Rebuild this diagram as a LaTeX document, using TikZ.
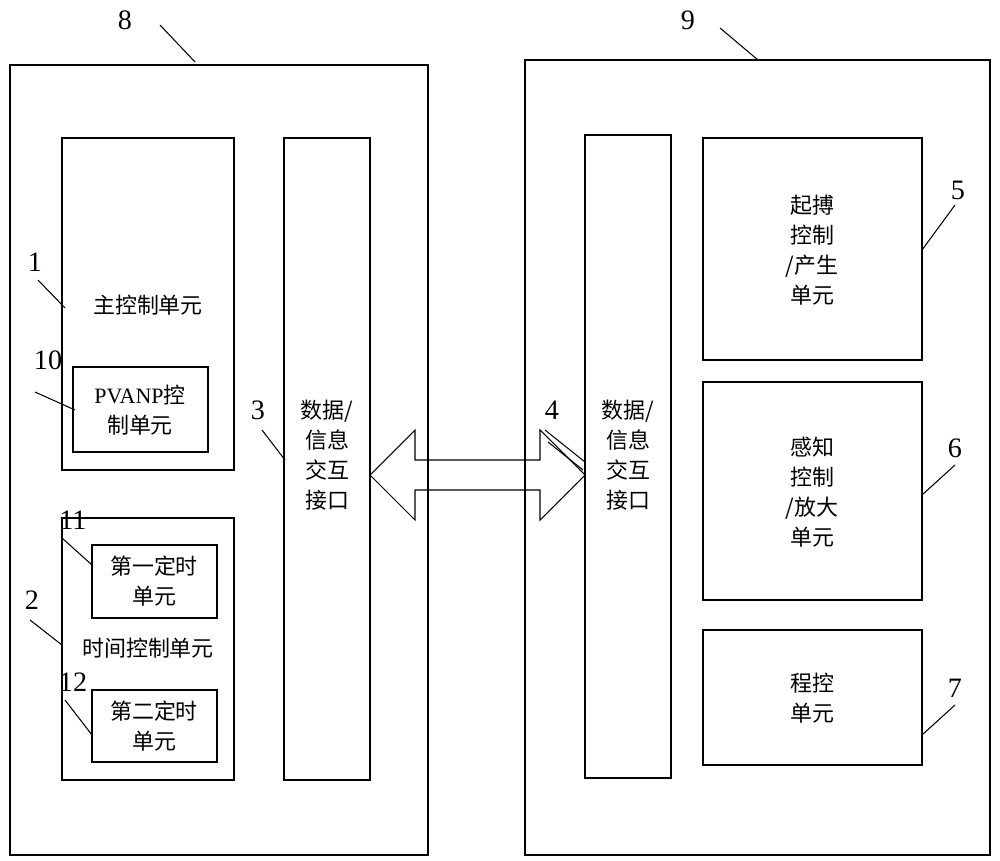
\documentclass[tikz,border=0pt]{standalone}
\usepackage{fontspec}
\setmainfont{Liberation Serif}
\newfontfamily\cjk{Noto Sans CJK SC}
\begin{document}
\begin{tikzpicture}[x=0.02cm,y=-0.02cm,
  box/.style={draw,line width=0.6pt},
  txt/.style={font=\fontsize{12.5pt}{17pt}\selectfont\cjk,align=center,inner sep=0pt},
  num/.style={font=\fontsize{16pt}{18pt}\selectfont,inner sep=0pt},
  lead/.style={line width=0.6pt}]
\useasboundingbox (0,0) rectangle (1000,861);
\draw[box] (10,65) rectangle (428,855);
\draw[box] (525,60) rectangle (990,855);
\draw[box] (62,138) rectangle (234,470);
\node[txt] (t1) at (148,305) {主控制单元};
\draw[box] (73,367) rectangle (208,452);
\node[txt] (t10) at (140,410) {{\rmfamily PVANP}控\\制单元};
\draw[box] (62,518) rectangle (234,780);
\node[txt] (t2) at (148,648) {时间控制单元};
\draw[box] (92,545) rectangle (217,618);
\node[txt] (t11) at (154,581) {第一定时\\单元};
\draw[box] (92,690) rectangle (217,762);
\node[txt] (t12) at (154,726) {第二定时\\单元};
\draw[box] (284,138) rectangle (370,780);
\node[txt] (t3) at (327,455) {数据/\\信息\\交互\\接口};
\draw[box] (585,135) rectangle (671,778);
\node[txt] (t4) at (628,455) {数据/\\信息\\交互\\接口};
\draw[box] (703,138) rectangle (922,360);
\node[txt] (t5) at (812,250) {起搏\\控制\\/产生\\单元};
\draw[box] (703,382) rectangle (922,600);
\node[txt] (t6) at (812,492) {感知\\控制\\/放大\\单元};
\draw[box] (703,630) rectangle (922,765);
\node[txt] (t7) at (812,698) {程控\\单元};
\draw[line width=0.6pt] (370,475) -- (415,430) -- (415,460) -- (540,460) -- (540,430) -- (585,475)
  -- (540,520) -- (540,490) -- (415,490) -- (415,520) -- cycle;
\node[num] (n8) at (125,20) {8}; \draw[lead] (160,25) -- (195,62);
\node[num] (n9) at (688,20) {9}; \draw[lead] (720,28) -- (758,60);
\node[num] (n1) at (35,262) {1}; \draw[lead] (38,280) -- (65,308);
\node[num] (n10) at (48,360) {10}; \draw[lead] (35,392) -- (75,410);
\node[num] (n3) at (258,410) {3}; \draw[lead] (262,430) -- (285,460);
\node[num] (n4) at (552,410) {4}; \draw[lead] (545,430) -- (585,462); \draw[lead] (548,442) -- (583,470);
\node[num] (n11) at (73,520) {11}; \draw[lead] (62,538) -- (92,565);
\node[num] (n2) at (32,600) {2}; \draw[lead] (30,620) -- (62,645);
\node[num] (n12) at (73,682) {12}; \draw[lead] (65,700) -- (92,735);
\node[num] (n5) at (958,190) {5}; \draw[lead] (955,205) -- (922,250);
\node[num] (n6) at (955,448) {6}; \draw[lead] (955,465) -- (922,495);
\node[num] (n7) at (955,688) {7}; \draw[lead] (955,705) -- (922,735);
\end{tikzpicture}
\end{document}
